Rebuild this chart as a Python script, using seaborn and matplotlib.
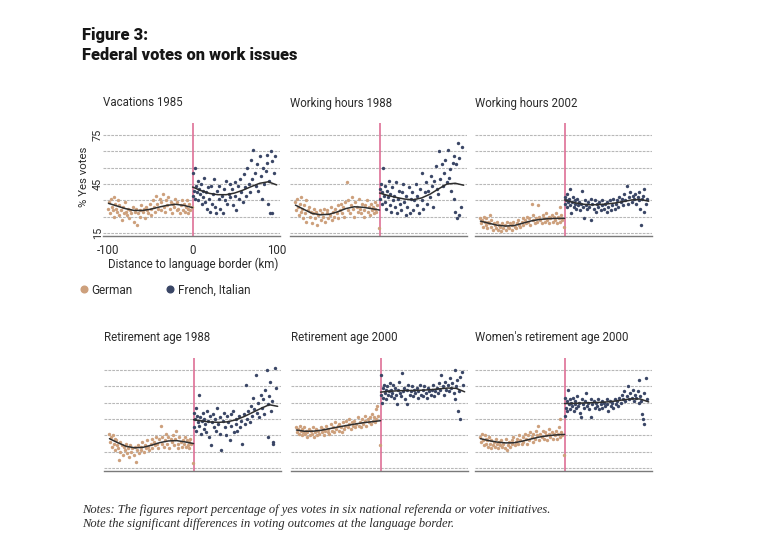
import matplotlib
matplotlib.use("Agg")
import matplotlib.pyplot as plt
from matplotlib.lines import Line2D
import seaborn as sns
import pandas as pd

# ---------------- data ----------------
TITLES = ["Vacations 1985", "Working hours 1988", "Working hours 2002",
          "Retirement age 1988", "Retirement age 2000", "Women's retirement age 2000"]

GER_X = [-100, -99, -98, -97, -96, -95, -94, -93, -92, -91,
         -90, -89, -88, -87, -85, -84, -83, -82, -80, -79,
         -78, -77, -75, -74, -73, -71, -70, -69, -67, -66,
         -65, -63, -62, -61, -59, -58, -57, -55, -54, -53,
         -51, -50, -49, -47, -46, -45, -43, -42, -41, -39,
         -38, -37, -35, -34, -33, -31, -30, -29, -27, -26,
         -25, -23, -22, -21, -19, -18, -17, -15, -14, -13,
         -11, -10, -9, -8, -7, -6, -5, -4, -3, -1]

FRA_X = [1, 1, 2, 3, 3, 4, 5, 6, 7, 8,
         9, 10, 11, 12, 13, 14, 15, 16, 17, 18,
         20, 21, 22, 23, 24, 26, 27, 28, 29, 31,
         32, 33, 35, 36, 37, 39, 40, 41, 43, 44,
         45, 47, 48, 50, 51, 52, 54, 55, 57, 58,
         60, 61, 62, 64, 65, 67, 68, 70, 71, 72,
         74, 75, 77, 78, 80, 81, 82, 84, 85, 87,
         88, 89, 90, 91, 92, 93, 94, 95, 97, 98]

VAC85_GER = [30, 34, 27, 36, 31, 29, 37, 25, 33, 30,
             28, 35, 26, 32, 29, 23, 31, 27, 34, 28,
             26, 30, 24, 29, 27, 31, 22, 28, 30, 20,
             27, 29, 25, 32, 28, 30, 24, 31, 29, 27,
             33, 30, 26, 35, 31, 28, 38, 33, 30, 36,
             29, 34, 39, 31, 28, 35, 32, 37, 30, 34,
             27, 33, 31, 36, 29, 34, 30, 27, 32, 35,
             29, 33, 28, 31, 35, 27, 30, 33, 29, 31]
VAC85_FRA = [52, 38, 41, 55, 36, 44, 40, 47, 35, 42,
             39, 45, 33, 41, 37, 49, 34, 40, 30, 43,
             36, 28, 44, 33, 39, 48, 31, 27, 41, 36,
             44, 30, 38, 27, 42, 35, 47, 33, 39, 45,
             37, 42, 32, 46, 38, 29, 44, 36, 48, 40,
             34, 51, 43, 38, 55, 45, 40, 60, 48, 66,
             52, 44, 57, 41, 62, 50, 36, 55, 45, 53,
             63, 58, 33, 47, 27, 65, 59, 27, 52, 62]

WH88_GER = [34, 29, 36, 31, 26, 33, 37, 28, 30, 24,
            32, 27, 35, 22, 29, 31, 25, 28, 21, 27,
            30, 24, 28, 20, 26, 29, 23, 27, 25, 30,
            22, 27, 29, 24, 26, 31, 23, 28, 25, 30,
            27, 32, 24, 29, 33, 27, 31, 25, 34, 46,
            29, 35, 27, 32, 37, 30, 25, 34, 31, 28,
            36, 30, 27, 33, 29, 25, 32, 35, 28, 31,
            26, 33, 29, 31, 27, 34, 30, 28, 32, 18]
WH88_FRA = [42, 36, 45, 33, 40, 55, 38, 34, 44, 30,
            41, 37, 47, 32, 39, 28, 43, 35, 38, 31,
            46, 27, 36, 41, 33, 29, 40, 45, 34, 26,
            38, 31, 43, 27, 36, 40, 29, 35, 45, 32,
            38, 27, 42, 35, 52, 30, 40, 46, 33, 41,
            37, 50, 44, 31, 47, 56, 42, 39, 65, 48,
            57, 44, 52, 60, 46, 66, 49, 54, 41, 58,
            36, 62, 28, 57, 24, 70, 26, 61, 31, 68]

WH02_GER = [24, 21, 23, 19, 25, 22, 20, 24, 18, 22,
            21, 26, 19, 23, 17, 21, 20, 18, 22, 17,
            20, 19, 16, 21, 18, 20, 17, 22, 19, 18,
            21, 17, 20, 22, 19, 18, 21, 23, 20, 19,
            22, 24, 20, 23, 21, 25, 22, 24, 20, 33,
            23, 26, 21, 24, 22, 32, 25, 23, 21, 26,
            24, 22, 27, 23, 25, 21, 24, 26, 22, 25,
            23, 27, 21, 25, 24, 22, 31, 26, 23, 19]
WH02_FRA = [37, 33, 35, 39, 31, 34, 36, 32, 42, 27,
            34, 37, 31, 35, 33, 30, 36, 32, 34, 29,
            33, 41, 31, 24, 35, 32, 30, 34, 31, 36,
            23, 33, 30, 35, 28, 33, 31, 34, 29, 32,
            35, 30, 33, 28, 34, 31, 35, 29, 32, 36,
            30, 33, 35, 31, 37, 34, 36, 32, 39, 35,
            44, 33, 37, 40, 34, 38, 36, 39, 33, 37,
            40, 35, 30, 20, 36, 38, 28, 42, 33, 36]

RA88_GER = [36, 31, 34, 28, 35, 30, 33, 26, 32, 29,
            27, 20, 31, 25, 29, 23, 28, 26, 30, 24,
            27, 22, 29, 25, 27, 23, 28, 19, 26, 29,
            24, 28, 26, 31, 25, 29, 27, 32, 28, 26,
            30, 33, 27, 31, 29, 34, 30, 27, 33, 41,
            30, 34, 28, 32, 36, 30, 34, 27, 33, 31,
            35, 29, 33, 38, 30, 27, 34, 31, 28, 32,
            30, 34, 28, 32, 29, 31, 27, 33, 30, 18]
RA88_FRA = [49, 40, 45, 52, 38, 47, 43, 60, 41, 46,
            36, 44, 49, 39, 45, 42, 37, 50, 44, 34,
            47, 29, 43, 48, 40, 45, 38, 52, 42, 36,
            46, 26, 44, 49, 40, 35, 47, 43, 32, 48,
            41, 50, 37, 45, 42, 38, 47, 40, 44, 30,
            48, 42, 66, 45, 50, 43, 53, 47, 58, 51,
            72, 49, 55, 46, 60, 52, 57, 48, 63, 75,
            54, 34, 59, 68, 50, 56, 31, 30, 76, 64]

RA00_GER = [40, 37, 39, 36, 41, 38, 35, 39, 37, 40,
            36, 38, 34, 37, 39, 35, 38, 36, 40, 34,
            37, 39, 35, 38, 36, 40, 37, 39, 35, 38,
            41, 37, 39, 36, 42, 38, 40, 37, 43, 39,
            41, 38, 42, 40, 37, 43, 39, 41, 44, 40,
            42, 45, 39, 43, 41, 44, 40, 42, 46, 41,
            43, 40, 45, 42, 44, 47, 41, 45, 43, 46,
            42, 48, 44, 46, 43, 51, 45, 53, 47, 29]
RA00_FRA = [72, 60, 55, 64, 58, 66, 61, 63, 57, 65,
            60, 62, 67, 59, 63, 61, 66, 58, 64, 60,
            54, 63, 68, 61, 59, 73, 62, 64, 57, 63,
            54, 66, 60, 62, 65, 59, 63, 61, 64, 58,
            62, 66, 60, 63, 59, 65, 61, 58, 64, 62,
            60, 63, 66, 59, 62, 64, 61, 67, 63, 72,
            65, 60, 68, 63, 66, 62, 70, 64, 67, 61,
            57, 75, 65, 69, 50, 62, 71, 45, 74, 66]

WRA00_GER = [34, 31, 36, 32, 29, 35, 33, 30, 32, 28,
             34, 30, 27, 32, 29, 31, 28, 33, 30, 27,
             31, 29, 32, 28, 30, 27, 33, 26, 29, 31,
             28, 32, 30, 34, 29, 31, 33, 30, 35, 32,
             30, 34, 31, 36, 33, 30, 35, 32, 37, 34,
             31, 36, 33, 38, 35, 41, 32, 36, 34, 38,
             33, 37, 35, 32, 36, 39, 34, 37, 33, 36,
             35, 38, 33, 36, 40, 45, 34, 37, 35, 23]
WRA00_FRA = [58, 47, 52, 56, 50, 63, 54, 57, 51, 55,
             53, 58, 50, 56, 54, 52, 59, 53, 55, 49,
             46, 57, 54, 52, 56, 61, 53, 55, 51, 57,
             46, 54, 56, 52, 55, 53, 57, 51, 54, 56,
             52, 55, 53, 57, 54, 50, 56, 53, 55, 52,
             57, 54, 56, 53, 58, 55, 60, 57, 62, 56,
             59, 65, 57, 61, 58, 63, 56, 60, 58, 62,
             55, 69, 59, 56, 48, 45, 61, 42, 70, 57]

# smoothed fits (every 10 km)
CURVE_GER_X = [-100, -90, -80, -70, -60, -50, -40, -30, -20, -10, 0]
CURVE_FRA_X = [0, 10, 20, 30, 40, 50, 60, 70, 80, 90, 100]
CURVES_GER = [
    [33.2, 31.6, 30.0, 28.9, 28.8, 29.6, 30.9, 32.0, 32.6, 31.9, 30.6],
    [32.1, 29.5, 27.0, 26.2, 26.5, 28.0, 30.0, 31.1, 30.8, 30.0, 29.1],
    [22.3, 21.0, 19.8, 19.3, 19.6, 21.0, 22.4, 23.3, 23.8, 24.0, 24.0],
    [33.0, 30.5, 28.3, 27.4, 27.7, 29.0, 30.6, 31.6, 31.8, 31.0, 30.0],
    [38.3, 37.5, 37.6, 38.2, 39.2, 40.2, 41.1, 42.0, 42.8, 43.4, 44.0],
    [33.0, 31.8, 30.9, 30.4, 30.5, 31.5, 32.8, 34.0, 34.8, 35.3, 35.6],
]
CURVES_FRA = [
    [43.2, 41.0, 39.3, 38.5, 38.5, 39.5, 41.3, 43.5, 45.5, 46.4, 44.5],
    [39.5, 38.0, 36.8, 35.8, 35.4, 36.5, 38.8, 42.0, 45.0, 45.5, 44.3],
    [35.3, 33.8, 32.8, 32.3, 32.4, 32.8, 33.4, 34.3, 35.3, 35.6, 34.5],
    [44.6, 43.8, 43.2, 43.0, 43.3, 44.5, 46.5, 49.0, 51.5, 53.8, 52.8],
    [61.5, 62.0, 62.3, 62.5, 62.5, 62.7, 63.0, 63.5, 64.0, 63.8, 61.7],
    [54.5, 54.6, 54.8, 55.0, 55.2, 55.5, 56.0, 56.8, 57.4, 57.3, 55.5],
]
GER_YS = [VAC85_GER, WH88_GER, WH02_GER, RA88_GER, RA00_GER, WRA00_GER]
FRA_YS = [VAC85_FRA, WH88_FRA, WH02_FRA, RA88_FRA, RA00_FRA, WRA00_FRA]

GRID_Y = [15, 25, 35, 45, 55, 65, 75]
X_TICKS = [-100, -80, -60, -40, -20, 0, 20, 40, 60, 80, 100]
X_TICK_LABELS = ["-100", "", "", "", "", "0", "", "", "", "", "100"]
Y_TICKS = [15, 45, 75]

# ---------------- style ----------------
sns.set_theme(style="white")
plt.rcParams["font.family"] = ["Roboto", "DejaVu Sans"]

GER_COLOR = "#CDA07C"
FRA_COLOR = "#3A4666"
BORDER_COLOR = "#DE6F96"
FIT_COLOR = "#2E2E2E"
TXT = "#2b2b2b"

W, H = 766, 555
fig = plt.figure(figsize=(W / 100, H / 100), dpi=100)
fig.patch.set_facecolor("white")


def add_ax(left, top, width, height):
    return fig.add_axes([left / W, 1 - (top + height) / H, width / W, height / H])


POS = [(103, 123), (290, 123), (475, 123), (104, 358), (291, 358), (475, 358)]
AX_W, AX_H = 177, 113

for i, (left, top) in enumerate(POS):
    ax = add_ax(left, top, AX_W, AX_H)
    ax.set_facecolor("white")
    ax.set_xlim(-106.5, 104)
    ax.set_ylim(13.2, 82.4)
    for g in GRID_Y:
        ax.axhline(g, color="#b8b8b8", lw=0.8, ls=(0, (2.5, 1)), zorder=0)
    ax.axvline(0, color=BORDER_COLOR, lw=1.2, zorder=1)

    dg = pd.DataFrame(list(zip(GER_X, GER_YS[i])), columns=["x", "y"])
    dfr = pd.DataFrame(list(zip(FRA_X, FRA_YS[i])), columns=["x", "y"])
    sns.scatterplot(data=dg, x="x", y="y", color=GER_COLOR, s=6, linewidth=0,
                    ax=ax, zorder=2)
    sns.scatterplot(data=dfr, x="x", y="y", color=FRA_COLOR, s=6, linewidth=0,
                    ax=ax, zorder=2)
    sns.lineplot(x=CURVE_GER_X, y=CURVES_GER[i], color=FIT_COLOR, lw=1.1, ax=ax,
                 zorder=3)
    sns.lineplot(x=CURVE_FRA_X, y=CURVES_FRA[i], color=FIT_COLOR, lw=1.1, ax=ax,
                 zorder=3)

    for s in ["left", "top", "right"]:
        ax.spines[s].set_visible(False)
    ax.spines["bottom"].set_color("#7a7a7a")
    ax.spines["bottom"].set_linewidth(1.0)
    ax.set_xticks(X_TICKS)
    ax.tick_params(axis="x", length=2.5, width=0.6, color="#7a7a7a",
                   direction="out", pad=3, labelsize=8.3, labelcolor=TXT)
    ax.set_xlabel("")
    ax.set_ylabel("")
    if i == 0:
        ax.set_xticklabels(X_TICK_LABELS)
        ax.set_yticks(Y_TICKS)
        ax.set_yticklabels([str(v) for v in Y_TICKS], rotation=90, va="center")
        ax.tick_params(axis="y", length=0, pad=0, labelsize=7.8, labelcolor=TXT)
    else:
        ax.set_xticklabels([])
        ax.set_yticks([])
    ax.text(0, 1.0 + 20 / AX_H, TITLES[i], transform=ax.transAxes,
            ha="left", va="center", fontsize=8.3, color=TXT)

# axis labels (first panel)
fig.text(84 / W, 1 - 177 / H, "% Yes votes", rotation=90, ha="center", va="center",
         fontsize=8.2, color=TXT)
fig.text(193 / W, 1 - 264 / H, "Distance to language border (km)", ha="center",
         va="center", fontsize=8.3, color=TXT)

# legend
handles = [Line2D([], [], marker="o", ls="", color=GER_COLOR, markersize=4.8),
           Line2D([], [], marker="o", ls="", color=FRA_COLOR, markersize=4.8)]
fig.legend(handles, ["German", "French, Italian"], loc="center left",
           bbox_to_anchor=(80 / W, 1 - 290 / H), ncol=2, frameon=False,
           fontsize=8.5, handlelength=0.6, handletextpad=0.35, columnspacing=2.9,
           borderpad=0, borderaxespad=0, labelcolor=TXT)

# headline
fig.text(82 / W, 1 - 40 / H, "Figure 3:", fontsize=11.8, fontweight="heavy",
         ha="left", va="baseline", color="#161616")
fig.text(82 / W, 1 - 60 / H, "Federal votes on work issues", fontsize=11.8,
         fontweight="heavy", ha="left", va="baseline", color="#161616")

# notes
NOTE_FONT = ["Liberation Serif", "DejaVu Serif"]
fig.text(82 / W, 1 - 510 / H,
         "Notes: The figures report percentage of yes votes in six national referenda or voter initiatives.",
         fontsize=9.0, style="italic", family=NOTE_FONT,
         ha="left", va="center", color=TXT)
fig.text(82 / W, 1 - 524 / H,
         "Note the significant differences in voting outcomes at the language border.",
         fontsize=9.0, style="italic", family=NOTE_FONT,
         ha="left", va="center", color=TXT)

fig.savefig("out.png", dpi=100, facecolor="white")
